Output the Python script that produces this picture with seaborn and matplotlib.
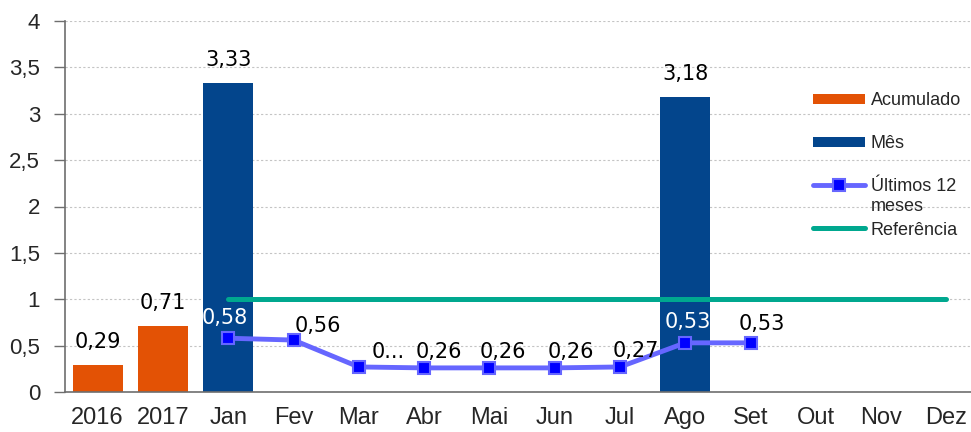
#!/usr/bin/env python
# -*- coding: utf-8 -*-
"""Indicador mensal: acumulado, mês, últimos 12 meses e referência."""

import numpy as np
import pandas as pd
import matplotlib
matplotlib.use("Agg")
import matplotlib.pyplot as plt
from matplotlib.lines import Line2D
from matplotlib.ticker import FuncFormatter
import seaborn as sns

# Dados
categorias = ['2016', '2017', 'Jan', 'Fev', 'Mar', 'Abr', 'Mai', 'Jun',
              'Jul', 'Ago', 'Set', 'Out', 'Nov', 'Dez']
meses = categorias[2:]

acumulado_cats = ['2016', '2017']
acumulado = [0.29, 0.71]

mes_cats = ['Jan', 'Ago']
mes = [3.33, 3.18]

ult12_cats = ['Jan', 'Fev', 'Mar', 'Abr', 'Mai', 'Jun', 'Jul', 'Ago', 'Set']
ult12 = [0.58, 0.56, 0.27, 0.26, 0.26, 0.26, 0.27, 0.53, 0.53]
ult12_rotulos = ['0,58', '0,56', '0...', '0,26', '0,26', '0,26', '0,27', '0,53', '0,53']

referencia = [1.0, 1.0, 1.0, 1.0, 1.0, 1.0, 1.0, 1.0, 1.0, 1.0, 1.0, 1.0]

# Cores
COR_ACUM = '#E35205'
COR_MES = '#03458C'
COR_LINHA = '#6666FF'
COR_MARCA = '#0000FF'
COR_REF = '#00A88F'
COR_EIXO = '#6E6E6E'

# Deslocamento dos rótulos da linha (px) e cor
rot_dx = [-3, 24, 29, 15, 14, 16, 16, 3, 11]
rot_dy = [20, 14, 15, 16, 16, 16, 16, 21, 19]
rot_cor = ['white', 'black', 'black', 'black', 'black', 'black', 'black', 'white', 'black']

sns.set_style('white')
plt.rcParams['font.family'] = ['Liberation Sans', 'DejaVu Sans']

fig = plt.figure(figsize=(9.71, 4.32), dpi=100)
ax = fig.add_axes([65 / 971, 1 - 392 / 432, (979 - 65) / 971, (392 - 21) / 432])

df_barras = pd.DataFrame({
    'cat': acumulado_cats + mes_cats,
    'valor': acumulado + mes,
    'serie': ['Acumulado'] * len(acumulado) + ['Mês'] * len(mes),
})

sns.barplot(data=df_barras, x='cat', y='valor', hue='serie', order=categorias,
            hue_order=['Acumulado', 'Mês'], palette=[COR_ACUM, COR_MES],
            dodge=False, width=0.77, saturation=1, errorbar=None, legend=False,
            linewidth=0, ax=ax, zorder=2)

pos = {c: i for i, c in enumerate(categorias)}

# Linha de referência
sns.lineplot(x=[pos[m] for m in meses], y=referencia, ax=ax, color=COR_REF,
             lw=3.6, solid_capstyle='round', zorder=3)

# Últimos 12 meses
ult12_x = [pos[m] for m in ult12_cats]
sns.lineplot(x=ult12_x, y=ult12, ax=ax, color=COR_LINHA, lw=3.5, marker='s',
             markersize=9, markerfacecolor=COR_MARCA, markeredgecolor=COR_LINHA,
             markeredgewidth=1.5, zorder=4)

# Rótulos das barras
for c, v in zip(acumulado_cats + mes_cats, acumulado + mes):
    ax.annotate(f'{v:.2f}'.replace('.', ','), xy=(pos[c], v), xytext=(0, 23 * 0.72),
                textcoords='offset points', ha='center', va='center',
                fontsize=15, family='DejaVu Sans', color='black', zorder=5)

# Rótulos da linha
for x, v, t, dx, dy, cor in zip(ult12_x, ult12, ult12_rotulos, rot_dx, rot_dy, rot_cor):
    ax.annotate(t, xy=(x, v), xytext=(dx * 0.72, dy * 0.72), textcoords='offset points',
                ha='center', va='center', fontsize=15, family='DejaVu Sans',
                color=cor, zorder=5)

# Eixos
ax.set_ylim(0, 4)
ax.set_xlim(-0.5, len(categorias) - 0.5)
ax.set_yticks(np.arange(0, 4.01, 0.5))
ax.yaxis.set_major_formatter(FuncFormatter(lambda v, p: f'{v:g}'.replace('.', ',')))
ax.set_xticks(range(len(categorias)))
ax.set_xticklabels(categorias)
ax.set_xticks(np.arange(-0.5, len(categorias), 1), minor=True)
ax.set_xlabel('')
ax.set_ylabel('')

ax.tick_params(axis='x', which='major', length=0, pad=11, labelsize=17)
ax.tick_params(axis='x', which='minor', length=6, width=1, color=COR_EIXO, direction='out')
ax.tick_params(axis='y', which='major', length=8, width=1, color=COR_EIXO, pad=10,
               labelsize=16, left=True, direction='out')

ax.yaxis.grid(True, linestyle=(0, (2, 2)), color='#C4C4C4', lw=0.8)
ax.xaxis.grid(False)
ax.set_axisbelow(True)

for lado in ['top', 'right']:
    ax.spines[lado].set_visible(False)
for lado in ['left', 'bottom']:
    ax.spines[lado].set_color(COR_EIXO)
    ax.spines[lado].set_linewidth(1.2)

# Legenda
handles = [
    Line2D([0], [0], color=COR_ACUM, lw=7.2, solid_capstyle='butt'),
    Line2D([0], [0], color=COR_MES, lw=7.2, solid_capstyle='butt'),
    Line2D([0], [0], color=COR_LINHA, lw=3.5, marker='s', markersize=9,
           markerfacecolor=COR_MARCA, markeredgecolor=COR_LINHA, markeredgewidth=1.5),
    Line2D([0], [0], color=COR_REF, lw=3.6, solid_capstyle='round'),
]
leg = ax.legend(handles, ['Acumulado', 'Mês', 'Últimos 12', 'Referência'],
                loc='upper left', bbox_to_anchor=(813 / 971, 1 - 92 / 432),
                bbox_transform=fig.transFigure, frameon=False, fontsize=13,
                handlelength=2.9, handletextpad=0.3, labelspacing=1.45,
                borderpad=0, borderaxespad=0)

# Segunda linha do rótulo "Últimos 12 meses"
fig.canvas.draw()
bb = leg.get_texts()[2].get_window_extent().transformed(fig.transFigure.inverted())
fig.text(bb.x0, bb.y0 - 0.007, 'meses', ha='left', va='top', fontsize=13)

fig.savefig('out.png', dpi=100)
